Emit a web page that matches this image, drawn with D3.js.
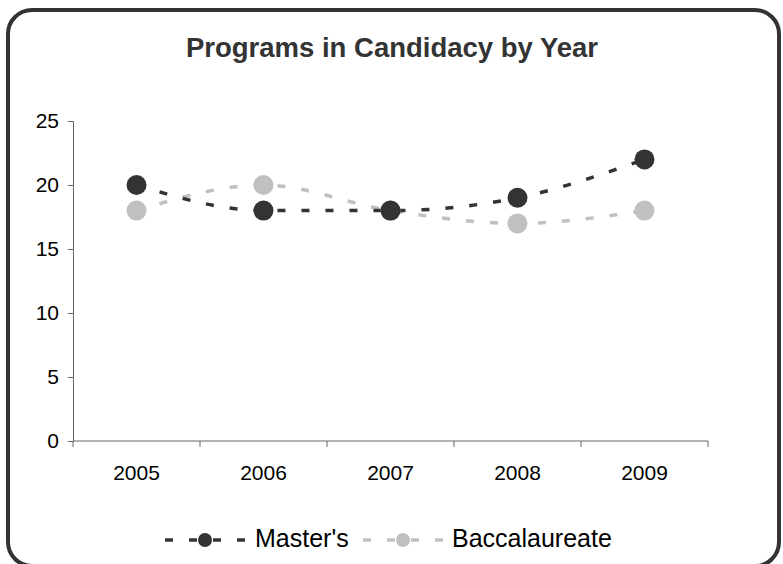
<!DOCTYPE html>
<html>
<head>
<meta charset="utf-8">
<script src="https://cdn.jsdelivr.net/npm/d3@7"></script>
<style>
  html, body { margin: 0; padding: 0; background: #fff; }
  svg { display: block; font-family: "Liberation Sans", Arial, sans-serif; }
</style>
</head>
<body>
<svg id="chart" width="783" height="564"></svg>
<script>
const years = ["2005", "2006", "2007", "2008", "2009"];
const masters = [20, 18, 18, 19, 22];
const baccalaureate = [18, 20, 18, 17, 18];
const yTicks = [0, 5, 10, 15, 20, 25];
const seriesNames = ["Master's", "Baccalaureate"];
const seriesColors = ["#333333", "#c0c0c0"];

const svg = d3.select("#chart");

// outer rounded border
svg.append("rect")
  .attr("x", 8).attr("y", 10)
  .attr("width", 771).attr("height", 556)
  .attr("rx", 24).attr("ry", 24)
  .attr("fill", "#fff")
  .attr("stroke", "#333333")
  .attr("stroke-width", 4);

// title
svg.append("text")
  .attr("x", 392).attr("y", 57)
  .attr("text-anchor", "middle")
  .attr("font-size", 27)
  .attr("font-weight", "bold")
  .attr("fill", "#333333")
  .attr("textLength", 412)
  .attr("lengthAdjust", "spacingAndGlyphs")
  .text("Programs in Candidacy by Year");

const x = d3.scaleBand().domain(years).range([73, 708]).padding(0);
const y = d3.scaleLinear().domain([0, 25]).range([441, 121]);

// y axis
const yAxis = d3.axisLeft(y).tickValues(yTicks).tickSize(5).tickPadding(9);
const gy = svg.append("g").attr("transform", "translate(73,0)").call(yAxis);
gy.select(".domain").attr("stroke", "#666");
gy.selectAll(".tick line").attr("stroke", "#666");
gy.selectAll(".tick text").attr("font-size", 21).attr("fill", "#000")
  .attr("font-family", "Liberation Sans, Arial, sans-serif");

// x axis
const xAxis = d3.axisBottom(x).tickSize(0).tickPadding(0);
const gx = svg.append("g").attr("transform", "translate(0,441)").call(xAxis);
gx.select(".domain").attr("stroke", "#666").attr("d", "M73,0H708");
gx.selectAll(".tick text").attr("font-size", 21).attr("fill", "#000")
  .attr("dy", null).attr("y", 39)
  .attr("font-family", "Liberation Sans, Arial, sans-serif");
// boundary tick marks between categories
const bounds = years.map(d => x(d)).concat([x(years[years.length - 1]) + x.bandwidth()]);
gx.selectAll(".bound").data(bounds).enter().append("line")
  .attr("class", "bound")
  .attr("x1", d => d).attr("x2", d => d)
  .attr("y1", 0).attr("y2", 6)
  .attr("stroke", "#666");

const cx = d => x(d) + x.bandwidth() / 2;
const line = d3.line()
  .x((d, i) => cx(years[i]))
  .y(d => y(d))
  .curve(d3.curveMonotoneX);

const data = [masters, baccalaureate];

[1, 0].forEach(k => {
  svg.append("path")
    .datum(data[k])
    .attr("d", line)
    .attr("fill", "none")
    .attr("stroke", seriesColors[k])
    .attr("stroke-width", 3.5)
    .attr("stroke-dasharray", "8,16");
});
[1, 0].forEach(k => {
  svg.append("g").selectAll("circle").data(data[k]).enter().append("circle")
    .attr("cx", (d, i) => cx(years[i]))
    .attr("cy", d => y(d))
    .attr("r", 10)
    .attr("fill", seriesColors[k]);
});

// legend
const legendItems = [
  { x0: 165, x1: 245, dot: 205, tx: 255 },
  { x0: 363, x1: 443, dot: 403, tx: 452 }
];
legendItems.forEach((it, k) => {
  const g = svg.append("g");
  g.append("line")
    .attr("x1", it.x0).attr("x2", it.x1)
    .attr("y1", 540).attr("y2", 540)
    .attr("stroke", seriesColors[k])
    .attr("stroke-width", 3.5)
    .attr("stroke-dasharray", "8,16");
  g.append("circle")
    .attr("cx", it.dot).attr("cy", 540).attr("r", 7)
    .attr("fill", seriesColors[k]);
  g.append("text")
    .attr("x", it.tx).attr("y", 547)
    .attr("font-size", 25)
    .attr("fill", "#000")
    .text(seriesNames[k]);
});
</script>
</body>
</html>
